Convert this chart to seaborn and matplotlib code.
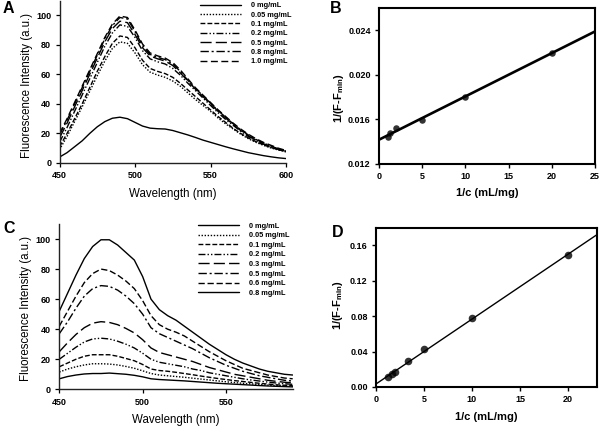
import matplotlib
matplotlib.use("Agg")
import matplotlib.pyplot as plt
from matplotlib.ticker import FormatStrFormatter
import numpy as np
import pandas as pd
import seaborn as sns

# ---------------- data ----------------
wl_a = [450, 455, 460, 465, 470, 475, 480, 485, 490, 495, 500, 505, 510, 515, 520,
        525, 530, 535, 540, 545, 550, 555, 560, 565, 570, 575, 580, 585, 590, 595, 600]
labels_a = ["0 mg/mL", "0.05 mg/mL", "0.1 mg/mL", "0.2 mg/mL", "0.5 mg/mL", "0.8 mg/mL", "1.0 mg/mL"]
a_0 = [4, 7, 11, 15, 20, 24.5, 28, 30.3, 31, 30, 27.5, 25, 23.6, 23.2, 23, 22, 20.5, 19, 17.3,
       15.5, 14, 12.5, 11, 9.6, 8.3, 7, 6, 5, 4.2, 3.5, 3]
a_005 = [9, 18, 28, 38, 48.5, 59, 69, 77.5, 82, 81, 74.5, 66.5, 61.5, 59.5, 58, 55.5, 52, 47.5, 43,
         39, 35, 30.5, 26.5, 23, 19.5, 16.5, 14, 12, 10.2, 8.8, 7.5]
a_01 = [11, 20, 30, 40, 51, 62, 72, 81, 86, 85, 78, 69.5, 64, 62, 60.5, 58, 54, 49.5, 45,
        40.5, 36, 31.5, 27.5, 23.5, 20, 17, 14.5, 12.3, 10.5, 9, 7.8]
a_02 = [14, 24, 35, 46, 57, 68, 79, 88, 93.5, 92.5, 85, 76, 70.5, 68.5, 67, 64, 59.5, 54, 49,
        44, 39, 34, 29.5, 25.5, 21.5, 18, 15, 12.8, 10.8, 9.2, 8]
a_05 = [17, 27, 38, 49, 60, 71, 82, 91, 96, 95, 87, 78, 72.5, 70.5, 69, 66, 61, 55.5, 50,
        45, 40, 35, 30.5, 26, 22, 18.5, 15.5, 13, 11, 9.3, 8]
a_08 = [19, 29, 40, 51, 62, 73, 84, 93, 98.5, 97.5, 89, 79.5, 73.5, 71.5, 70, 67, 62, 56, 50.5,
        45.5, 40.5, 35.5, 31, 26.5, 22.5, 19, 16, 13.5, 11.5, 9.5, 8.2]
a_10 = [20, 30, 41, 52, 63, 74, 85, 94, 99.5, 98.5, 90, 80.5, 74.5, 72.5, 71, 68, 63, 57, 51,
        46, 41, 36, 31.5, 27, 23, 19.5, 16.5, 14, 12, 10, 8.5]

recip_c_b = [1.0, 1.25, 2.0, 5.0, 10.0, 20.0]
inv_f_b = [0.01442, 0.01472, 0.01517, 0.01592, 0.01801, 0.02199]

wl_c = [450, 455, 460, 465, 470, 475, 480, 485, 490, 495, 500, 505, 510, 515, 520,
        525, 530, 535, 540, 545, 550, 555, 560, 565, 570, 575, 580, 585, 590]
labels_c = ["0 mg/mL", "0.05 mg/mL", "0.1 mg/mL", "0.2 mg/mL", "0.3 mg/mL", "0.5 mg/mL", "0.6 mg/mL", "0.8 mg/mL"]
c_0 = [52, 64, 76, 87, 95, 99.5, 99.5, 96, 91, 86, 75, 60, 53, 49, 46, 42, 38, 34, 30,
       26.5, 23, 20, 17.5, 15.5, 13.5, 12, 11, 10, 9.5]
c_005 = [11.5, 13.5, 15, 16.2, 17, 17, 16.8, 16.2, 15.2, 14, 12.3, 10.5, 9.5, 9, 8.5, 8, 7.4,
         6.8, 6.2, 5.6, 5, 4.5, 4, 3.6, 3.2, 2.8, 2.5, 2.2, 2]
c_01 = [15, 17.5, 20, 22, 23, 23, 23, 22, 20.5, 19, 16.5, 13.5, 12.5, 12, 11.3, 10.5, 9.7,
        8.8, 8, 7.2, 6.5, 5.8, 5.2, 4.6, 4, 3.5, 3, 2.7, 2.5]
c_02 = [20, 24, 28, 31.5, 33.5, 34, 33.5, 32, 30, 27.5, 24, 20, 18, 17, 16, 15, 13.5, 12.5,
        11, 10, 9, 8, 7, 6.2, 5.5, 4.8, 4.2, 3.7, 3.3]
c_03 = [25, 31, 36.5, 41, 44, 45, 44.5, 43, 40.5, 37.5, 33, 27.5, 24.5, 23, 21.5, 20, 18.5,
        16.5, 14.5, 13, 11.5, 10, 9, 8, 7, 6, 5.3, 4.7, 4.3]
c_05 = [37, 45, 54, 62, 67, 69, 68.5, 66, 62, 57, 50, 41, 37, 34.5, 32, 29.5, 27, 24, 21,
        18.5, 16, 14, 12, 10.5, 9, 8, 7, 6, 5.5]
c_06 = [42, 52, 62, 71, 77, 80, 79, 76, 72, 67, 59, 49, 43, 40, 38, 35.5, 32, 28.5, 25,
        22, 19, 16.5, 14, 12.5, 11, 9.5, 8.5, 7.5, 7]
c_08 = [7, 8.5, 9.5, 10.2, 10.5, 10.5, 10.8, 10.4, 10, 9.3, 8.3, 7, 6.5, 6.2, 5.9, 5.6, 5.2,
        4.8, 4.4, 4, 3.7, 3.4, 3.1, 2.8, 2.5, 2.2, 2, 1.8, 1.6]

recip_c_d = [1.25, 1.67, 2.0, 3.33, 5.0, 10.0, 20.0]
inv_f_d = [0.0110, 0.0145, 0.0172, 0.0292, 0.0424, 0.0775, 0.1490]

# ---------------- style ----------------
sns.set_theme(style="ticks")
plt.rcParams["font.family"] = ["Liberation Sans", "DejaVu Sans"]
plt.rcParams["mathtext.fontset"] = "custom"
plt.rcParams["mathtext.rm"] = "Liberation Sans:bold"
plt.rcParams["mathtext.default"] = "rm"
for k in ["text.color", "axes.labelcolor", "xtick.color", "ytick.color", "axes.edgecolor"]:
    plt.rcParams[k] = "black"

DPI = 100
fig = plt.figure(figsize=(6.0, 4.28), dpi=DPI)
W, H = 600.0, 428.0


def add_axes(x0, x1, ytop, ybot):
    return fig.add_axes([x0 / W, 1 - ybot / H, (x1 - x0) / W, (ybot - ytop) / H])


axA = add_axes(59.5, 286, 0.5, 163)
axB = add_axes(379, 595, 8, 163.7)
axC = add_axes(59.3, 292.7, 224, 389.3)
axD = add_axes(376, 596.7, 227.7, 387)

styles_a = ["-", (0, (1, 1.2)), (0, (3.5, 1.5)), (0, (5, 1.5, 1, 1.5, 1, 1.5)),
            (0, (8, 3)), (0, (6, 2, 1.5, 2)), (0, (5, 2.5))]
styles_c = ["-", (0, (1, 1.2)), (0, (3.5, 1.5)), (0, (5, 1.5, 1, 1.5, 1, 1.5)),
            (0, (8, 3)), (0, (6, 2, 1.5, 2)), (0, (4.5, 2)), "-"]

TICK_FS = 6.5


def style_spectrum(ax, xlim, xticks, xlab_y, ylab_x, ylab_y):
    ax.set_xlim(*xlim)
    ax.set_ylim(0, 110)
    ax.set_xticks(xticks)
    ax.set_yticks([0, 20, 40, 60, 80, 100])
    sns.despine(ax=ax)
    for s in ["left", "bottom"]:
        ax.spines[s].set_linewidth(1.0)
        ax.spines[s].set_color("#222222")
    ax.tick_params(direction="out", length=3, width=0.9, pad=3)
    for lab in ax.get_xticklabels() + ax.get_yticklabels():
        lab.set_fontsize(TICK_FS)
        lab.set_fontweight("bold")
    ax.set_xlabel("Wavelength (nm)", fontsize=8.3)
    ax.set_ylabel("Fluorescence Intensity (a.u.)", fontsize=8.3)
    ax.xaxis.set_label_coords(0.5, xlab_y)
    ax.yaxis.set_label_coords(ylab_x, ylab_y)


series_a = [a_0, a_005, a_01, a_02, a_05, a_08, a_10]
for lab, vals, ls in zip(labels_a, series_a, styles_a):
    sns.lineplot(x=wl_a, y=vals, ax=axA, color="black", linestyle=ls, linewidth=1.0,
                 label=lab, sort=False, errorbar=None)
style_spectrum(axA, (450, 600), [450, 500, 550, 600], -0.151, -0.119, 0.48)
axA.legend(loc="upper left", bbox_to_anchor=(200 / W, 1 - 2 / H), bbox_transform=fig.transFigure,
           frameon=False, prop=dict(size=5.3, weight="bold"), handlelength=5.6, handletextpad=1.3,
           labelspacing=0.3, borderpad=0, borderaxespad=0)

series_c = [c_0, c_005, c_01, c_02, c_03, c_05, c_06, c_08]
for lab, vals, ls in zip(labels_c, series_c, styles_c):
    sns.lineplot(x=wl_c, y=vals, ax=axC, color="black", linestyle=ls, linewidth=1.0,
                 label=lab, sort=False, errorbar=None)
style_spectrum(axC, (450, 590), [450, 500, 550], -0.152, -0.115, 0.49)
axC.legend(loc="upper left", bbox_to_anchor=(198 / W, 1 - 222.5 / H), bbox_transform=fig.transFigure,
           frameon=False, prop=dict(size=5.3, weight="bold"), handlelength=5.6, handletextpad=1.3,
           labelspacing=0.33, borderpad=0, borderaxespad=0)


def style_linear(ax, xlim, ylim, xticks, yticks, fmt, xlab_y, ylab_x, ylab_y):
    ax.set_xlim(*xlim)
    ax.set_ylim(*ylim)
    ax.set_xticks(xticks)
    ax.set_yticks(yticks)
    ax.yaxis.set_major_formatter(FormatStrFormatter(fmt))
    for s in ax.spines.values():
        s.set_linewidth(1.5)
        s.set_color("black")
    ax.tick_params(direction="out", length=3, width=1.0, pad=3)
    for lab in ax.get_xticklabels() + ax.get_yticklabels():
        lab.set_fontsize(TICK_FS)
        lab.set_fontweight("bold")
    ax.set_xlabel("1/c (mL/mg)", fontsize=8, fontweight="bold")
    ax.set_ylabel(r"1/(F-F$_{min}$)", fontsize=8, fontweight="bold")
    ax.xaxis.set_label_coords(0.5, xlab_y)
    ax.yaxis.set_label_coords(ylab_x, ylab_y)


axB.set_xlim(0, 25)
sns.regplot(x=recip_c_b, y=inv_f_b, ax=axB, ci=None, truncate=False, color="black",
            scatter_kws=dict(s=22, linewidths=0), line_kws=dict(linewidth=1.9))
style_linear(axB, (0, 25), (0.012, 0.026), [0, 5, 10, 15, 20, 25],
             [0.012, 0.016, 0.020, 0.024], "%.3f", -0.153, -0.153, 0.42)

axD.set_xlim(0, 23)
sns.regplot(x=recip_c_d, y=inv_f_d, ax=axD, ci=None, truncate=False, color="black",
            scatter_kws=dict(s=30, linewidths=0), line_kws=dict(linewidth=1.0))
style_linear(axD, (0, 23), (0, 0.18), [0, 5, 10, 15, 20],
             [0.00, 0.04, 0.08, 0.12, 0.16], "%.2f", -0.160, -0.14, 0.515)

for txt, x, y in [("A", 3, 1), ("B", 330, 1), ("C", 3, 221), ("D", 332, 225)]:
    fig.text(x / W, 1 - y / H, txt, fontsize=11.5, fontweight="bold", va="top", ha="left")

fig.savefig("out.png", dpi=DPI)
